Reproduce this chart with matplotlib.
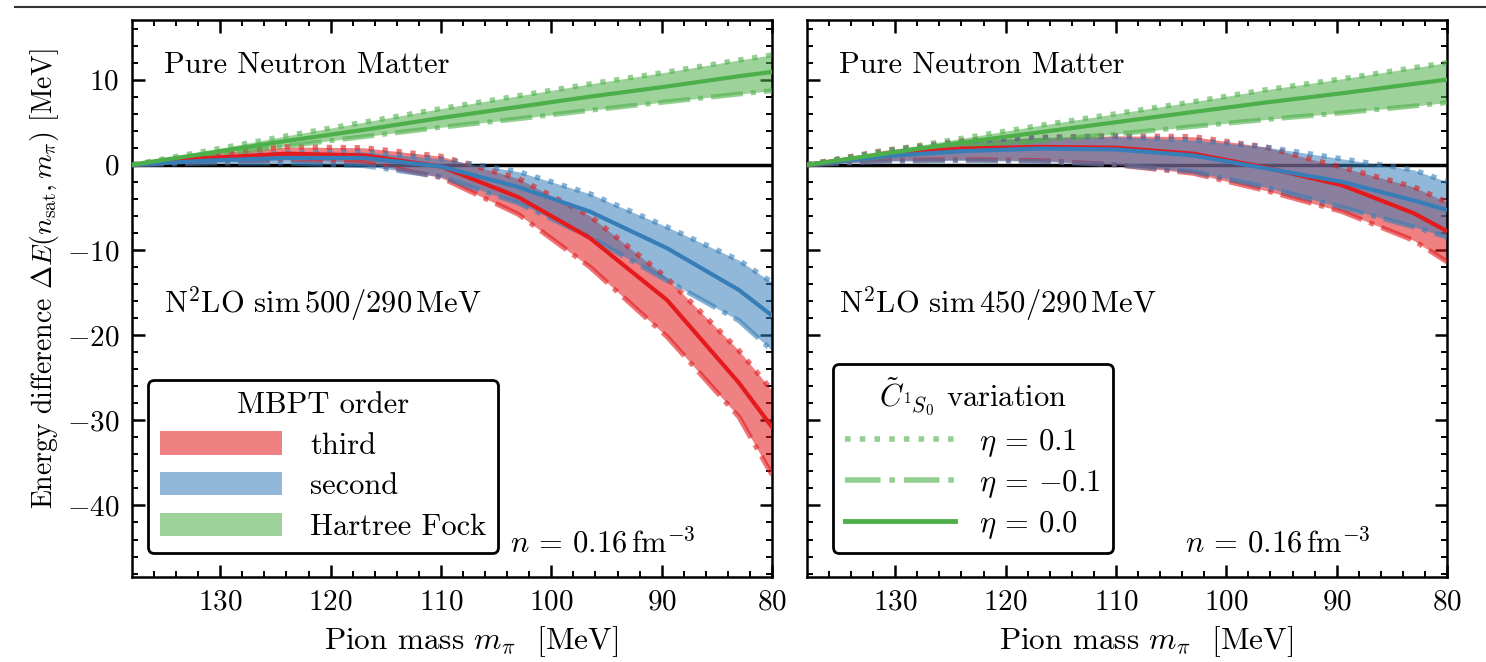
import numpy as np
import matplotlib
matplotlib.use("Agg")
import matplotlib.pyplot as plt
from matplotlib.patches import Patch
from matplotlib.lines import Line2D

plt.rcParams["font.family"] = "serif"
plt.rcParams["font.serif"] = ["cmr10"]
plt.rcParams["mathtext.fontset"] = "cm"
plt.rcParams["axes.formatter.use_mathtext"] = True

# pion masses (MeV)
mpi = [138, 131, 124, 117, 110, 103, 96.5, 89.5, 83, 80]

# left panel: N2LO sim 500/290 MeV  (center eta=0, up eta=0.1, dn eta=-0.1)
hf_500 = [0, 1.4, 2.8, 4.1, 5.5, 6.8, 8.0, 9.2, 10.4, 10.9]
hf_500_up = [0, 1.7, 3.4, 5.0, 6.6, 8.1, 9.5, 10.9, 12.3, 12.9]
hf_500_dn = [0, 1.1, 2.2, 3.3, 4.4, 5.4, 6.4, 7.4, 8.3, 8.7]
second_500 = [0, 0.5, 0.8, 0.8, -0.2, -2.6, -5.5, -9.8, -14.7, -17.7]
second_500_up = [0, 0.8, 1.4, 1.5, 0.7, -0.8, -3.4, -7.3, -11.2, -13.8]
second_500_dn = [0, 0.2, 0.2, -0.1, -1.4, -4.5, -8.5, -13.6, -18.3, -21.8]
third_500 = [0, 0.8, 1.3, 1.1, -0.2, -3.8, -8.6, -15.9, -25.6, -30.8]
third_500_up = [0, 1.3, 2.1, 2.0, 1.0, -1.6, -6.0, -13.3, -21.8, -26.5]
third_500_dn = [0, 0.4, 0.6, 0.3, -1.5, -5.8, -12.0, -20.2, -29.6, -36.4]

# right panel: N2LO sim 450/290 MeV
hf_450 = [0, 1.3, 2.6, 3.8, 5.0, 6.2, 7.3, 8.4, 9.5, 10.0]
hf_450_up = [0, 1.6, 3.1, 4.6, 6.0, 7.4, 8.8, 10.1, 11.4, 12.0]
hf_450_dn = [0, 1.0, 1.9, 2.8, 3.6, 4.5, 5.3, 6.1, 6.9, 7.3]
second_450 = [0, 1.0, 1.6, 1.9, 1.8, 1.1, -0.4, -2.0, -4.2, -5.3]
second_450_up = [0, 1.6, 2.7, 3.2, 3.3, 2.9, 2.1, 0.7, -0.6, -2.0]
second_450_dn = [0, 0.4, 0.5, 0.4, 0.0, -0.8, -2.6, -5.0, -7.3, -8.5]
third_450 = [0, 1.2, 1.9, 2.1, 2.0, 1.3, -0.3, -2.4, -5.7, -7.8]
third_450_up = [0, 1.7, 2.8, 3.2, 3.4, 3.3, 2.1, -0.3, -2.6, -4.4]
third_450_dn = [0, 0.5, 0.6, 0.5, 0.0, -1.0, -3.0, -5.5, -8.9, -11.4]

red, blue, green = "#e41a1c", "#377eb8", "#4daf4a"

panels = [
    ("500/290", [(third_500, third_500_up, third_500_dn, red),
                 (second_500, second_500_up, second_500_dn, blue),
                 (hf_500, hf_500_up, hf_500_dn, green)]),
    ("450/290", [(third_450, third_450_up, third_450_dn, red),
                 (second_450, second_450_up, second_450_dn, blue),
                 (hf_450, hf_450_up, hf_450_dn, green)]),
]

fig = plt.figure(figsize=(14.86, 6.62), dpi=100)
fig.add_artist(Line2D([0.01, 1.0], [0.989, 0.989], color="#333333", lw=1.5))

lefts = [132 / 1486, 807 / 1486]
axes = []
for i, (cut, bands) in enumerate(panels):
    ax = fig.add_axes([lefts[i], 0.1284, 640 / 1486, 0.8414])
    axes.append(ax)
    ax.axhline(0, color="black", lw=2.5, zorder=1)
    for center, up, dn, c in bands:
        ax.fill_between(mpi, dn, up, color=c, alpha=0.55, lw=0, zorder=2)
        ax.plot(mpi, up, ls=":", color=c, alpha=0.6, lw=3.8, zorder=3)
        ax.plot(mpi, dn, ls="-.", color=c, alpha=0.6, lw=3.6, zorder=3)
        ax.plot(mpi, center, ls="-", color=c, lw=3.0, zorder=4)

    ax.set_xlim(138, 80)
    ax.set_ylim(-48.4, 17)
    ax.set_xticks([130, 120, 110, 100, 90, 80])
    ax.set_xticks(np.arange(80, 138, 2), minor=True)
    ax.set_yticks([-40, -30, -20, -10, 0, 10])
    ax.set_yticks(np.arange(-48, 17, 2), minor=True)
    ax.tick_params(which="both", direction="in", top=True, right=True, labelsize=21)
    ax.tick_params(which="major", length=9, width=1.8, pad=9)
    ax.tick_params(which="minor", length=4.5, width=1.4)
    for sp in ax.spines.values():
        sp.set_linewidth(1.8)
    ax.set_xlabel(r"Pion mass $m_\pi$  [MeV]", fontsize=22.5, labelpad=6, x=0.53)

    ax.text(0.05, 0.905, "Pure Neutron Matter", transform=ax.transAxes, fontsize=22)
    ax.text(0.05, 0.475, r"N$^2$LO sim$\,$" + cut + r"$\,$MeV", transform=ax.transAxes,
            fontsize=22)
    ax.text(0.88, 0.045, r"$n$ = 0.16$\,$fm$^{-3}$", transform=ax.transAxes,
            fontsize=22, ha="right")

axes[0].set_ylabel(r"Energy difference $\Delta E(n_\mathrm{sat}, m_\pi)$ [MeV]",
                   fontsize=20, y=0.535)
axes[1].tick_params(labelleft=False)

order_handles = [Patch(facecolor=red, alpha=0.55, lw=0),
                 Patch(facecolor=blue, alpha=0.55, lw=0),
                 Patch(facecolor=green, alpha=0.55, lw=0)]
leg1 = axes[0].legend(order_handles, ["third", "second", "Hartree Fock"],
                      title="MBPT order", loc="lower left", bbox_to_anchor=(0.025, 0.043),
                      borderaxespad=0, fontsize=22, title_fontsize=22, handlelength=4.0,
                      handleheight=0.8, handletextpad=0.9, labelspacing=0.4, fancybox=True,
                      framealpha=1, edgecolor="black")
leg1.get_frame().set_linewidth(2)

eta_handles = [Line2D([], [], ls=":", color=green, alpha=0.6, lw=4),
               Line2D([], [], ls="-.", color=green, alpha=0.6, lw=4),
               Line2D([], [], ls="-", color=green, lw=3.5)]
leg2 = axes[1].legend(eta_handles, [r"$\eta$ = 0.1", r"$\eta$ = $-$0.1", r"$\eta$ = 0.0"],
                      title=r"$\tilde{C}_{^1S_0}$ variation", loc="lower left",
                      bbox_to_anchor=(0.04, 0.043), borderaxespad=0, fontsize=22,
                      title_fontsize=22, handlelength=3.6, handletextpad=0.8,
                      labelspacing=0.3, fancybox=True, framealpha=1, edgecolor="black")
leg2.get_frame().set_linewidth(2)

fig.savefig("out.png", dpi=100)
